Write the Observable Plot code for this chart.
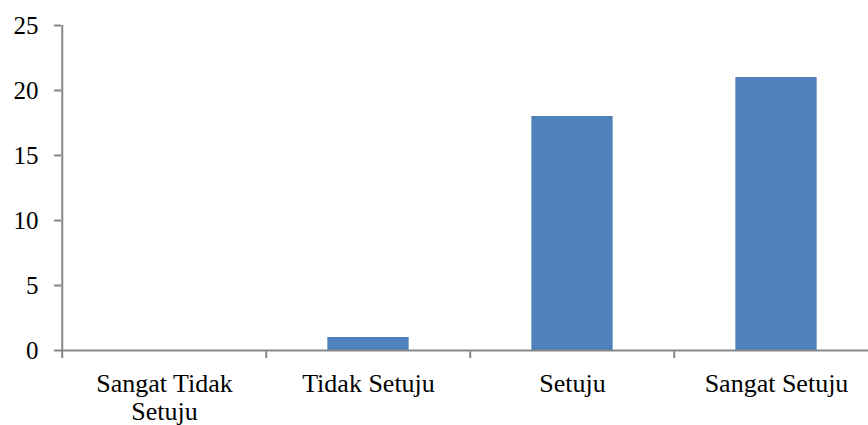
<!DOCTYPE html>
<html>
<head>
<meta charset="utf-8">
<script src="https://cdn.jsdelivr.net/npm/d3@7"></script>
<script src="https://cdn.jsdelivr.net/npm/@observablehq/plot@0.6"></script>
<style>
  html, body { margin: 0; padding: 0; background: #fff; }
  #chart svg { display: block; }
  #chart svg text { font-family: "Liberation Serif", serif; }
</style>
</head>
<body>
<div id="chart"></div>
<script>
const categories = ["Sangat Tidak Setuju", "Tidak Setuju", "Setuju", "Sangat Setuju"];
const values = [0, 1, 18, 21];
const tickLabels = ["Sangat Tidak\nSetuju", "Tidak Setuju", "Setuju", "Sangat Setuju"];
const yTicks = [0, 5, 10, 15, 20, 25];

const data = categories.map((c, i) => ({category: c, value: values[i]}));

const xRange = [61, 879];
const band = d3.scaleBand().domain(categories).range(xRange).padding(0);
const half = band.bandwidth() / 2;
const axisColor = "#878787";
const font = "Liberation Serif";

const chart = Plot.plot({
  width: 868,
  height: 425,
  marginTop: 25,
  marginBottom: 75,
  marginLeft: 61,
  marginRight: 0,
  style: {fontFamily: font, fontSize: "26px", color: "#000", background: "#fff"},
  x: {type: "band", domain: categories, range: xRange, padding: 0},
  y: {domain: [0, 25], ticks: yTicks},
  marks: [
    Plot.barY(data, {x: "category", y: "value", fill: "#4F81BD", insetLeft: band.bandwidth() * 0.3, insetRight: band.bandwidth() * 0.3}),
    Plot.axisY({ticks: yTicks, tickSize: 7, tickPadding: 16, stroke: axisColor, strokeWidth: 2, fill: "#000", fontFamily: font, fontSize: 25, label: null, line: false}),
    Plot.ruleX([0], {x: () => categories[0], dx: -half, y1: 0, y2: 25, stroke: axisColor, strokeWidth: 2}),
    Plot.axisX({tickSize: 8, dx: -half, text: null, stroke: axisColor, strokeWidth: 2, label: null}),
    Plot.ruleY([0], {stroke: axisColor, strokeWidth: 2}),
    Plot.axisX({tickSize: 0, tickPadding: 21, tickFormat: (d) => tickLabels[categories.indexOf(d)], fill: "#000", fontFamily: font, fontSize: 26, lineHeight: 1.1, label: null})
  ]
});
document.getElementById("chart").appendChild(chart);
</script>
</body>
</html>
